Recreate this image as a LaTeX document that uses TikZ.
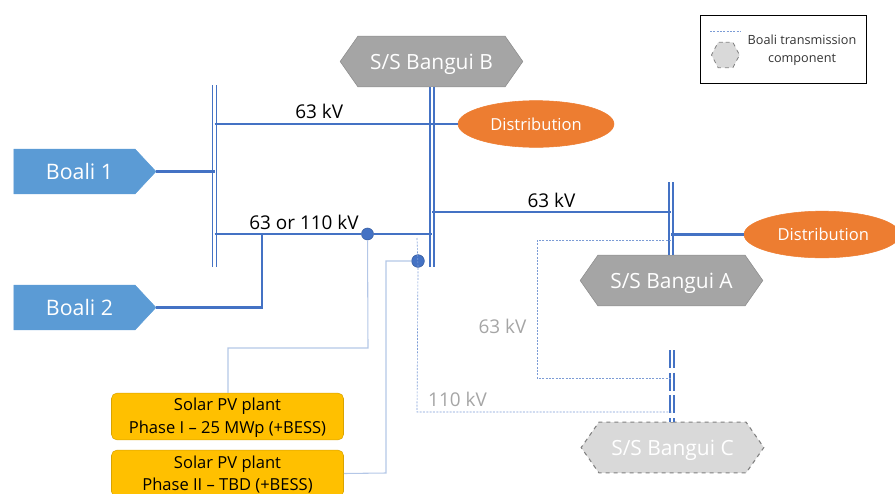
\documentclass[tikz,border=0pt]{standalone}
\usepackage{fontspec}
\setmainfont{Open Sans}
\usepackage{xcolor}
\usetikzlibrary{shapes.geometric, shapes.symbols, positioning}
\definecolor{linkblue}{RGB}{68, 114, 196}
\definecolor{paleblue}{RGB}{180, 199, 231}
\definecolor{plantblue}{RGB}{91, 155, 213}
\definecolor{loadorange}{RGB}{237, 125, 49}
\definecolor{stationgray}{RGB}{165, 165, 165}
\definecolor{plannedgray}{RGB}{217, 217, 217}
\definecolor{solaryellow}{RGB}{255, 192, 0}
\tikzset{
    plant/.style={signal, signal to=east, signal pointer angle=94, draw=plantblue, fill=plantblue,
        minimum width=106.5pt, minimum height=33.5pt, inner sep=0pt, outer sep=0pt,
        text=white, font=\fontsize{16}{18}\selectfont},
    station/.style={signal, signal to=east and west, signal pointer angle=110, draw=stationgray!85!black, fill=stationgray,
        minimum width=137pt, minimum height=38pt, inner sep=0pt, outer sep=0pt, text depth=0pt,
        text=white, font=\fontsize{15.7}{18}\selectfont},
    planned/.style={station, draw=gray, dashed, thick, fill=plannedgray},
    load/.style={ellipse, draw=loadorange, fill=loadorange, minimum width=117pt, minimum height=35pt,
        inner sep=0pt, outer sep=0pt, text=white, font=\fontsize{12.4}{14}\selectfont},
    solar/.style={rectangle, rounded corners=4pt, draw=solaryellow!85!black, fill=solaryellow,
        minimum width=174pt, minimum height=35pt, inner sep=0pt, align=center,
        font=\fontsize{12.4}{17}\selectfont},
    busbar/.style={linkblue, line width=1.2pt, double=white, double distance=1.8pt},
    feeder/.style={linkblue, line width=2pt},
    tapline/.style={paleblue, line width=0.8pt},
    future/.style={linkblue!70, line width=0.5pt, dash pattern=on 1.5pt off 1pt},
    voltage/.style={font=\fontsize{14.2}{16}\selectfont},
    tapdot/.style={circle, fill=linkblue, draw=linkblue!80!black, inner sep=0pt}
}
\begin{document}
\begin{tikzpicture}[x=0.75pt, y=-0.75pt]
    \useasboundingbox (0,0) rectangle (895,493);

    % Plants
    \node[plant] (boali1) at (74.5,171.5) {\hspace*{7.5pt}Boali 1};
    \node[plant] (boali2) at (74.5,307.5) {\hspace*{7.5pt}Boali 2};

    % Substations
    \node[station] (bangB) at (431.5,61.5) {S/S Bangui B};
    \node[station] (bangA) at (671.5,280.5) {S/S Bangui A};
    \node[planned] (bangC) at (672.5,447.5) {S/S Bangui C};

    % Loads
    \node[load] (distB) at (536,124) {Distribution};
    \node[load] (distA) at (822,234.5) {\hspace*{2pt}Distribution};

    % Solar plants
    \node[solar] (pv1) at (227.5,416.5) {};
    \node[solar] (pv2) at (227.5,473.5) {};
    \node[align=center, font=\fontsize{12.4}{17}\selectfont] (pv1text) at (227.5,417.5) {Solar PV plant\\Phase I -- 25 MWp (+BESS)};
    \node[align=center, font=\fontsize{12.4}{17}\selectfont] (pv2text) at (227.5,474.5) {Solar PV plant\\Phase II -- TBD (+BESS)};

    % Bus ends
    \coordinate (busLtop) at (214.5,85);
    \coordinate (busLbot) at (214.5,267);
    \coordinate (busBbot) at (432,267);
    \coordinate (busAtop) at (671,182);
    \coordinate (busCtop) at (672,350);

    % Busbars
    \draw[busbar] (busLtop) -- (busLbot);
    \draw[busbar] (bangB.south) ++(0.5,0) -- (busBbot);
    \draw[busbar] (busAtop) -- (busAtop |- bangA.north);
    \draw[busbar, dash pattern=on 13.5pt off 3.5pt] (busCtop) -- (busCtop |- bangC.north);

    % Tap points
    \node[tapdot, minimum size=9pt] (tap1) at (367.5,234) {};
    \node[tapdot, minimum width=8.5pt, minimum height=9.5pt] (tap2) at (418,261) {};

    % Feeders
    \coordinate (joinL) at (262,234);
    \draw[feeder] (boali1.east) -- (boali1.east -| busLtop);
    \draw[feeder] (boali2.east) -| (joinL);
    \draw[feeder] (busLtop |- distB) -- node[pos=0.43, above=-0.5pt, black, voltage] (lab63a) {63 kV} (distB.west);
    \draw[feeder] (busLtop |- joinL) -- (tap1) -- (busBbot |- joinL);
    \draw[feeder, line width=1.5pt] (432,212) -- node[pos=0.5, above=-0.5pt, black, voltage] (lab63b) {63 kV} (busAtop |- 0,212);
    \draw[feeder] (busAtop |- distA) -- (distA.west);
    \node[voltage] (lab63c) at (304,222) {63 or 110 kV};

    % Solar connections
    \draw[tapline] (tap1) -- (368,348) -- (228,348) -- (pv1.north -| 228,0);
    \draw[tapline] (tap2) -- (386,261) -- (386,473) -- (pv2.east);

    % Future Boali lines
    \coordinate (corner110) at (417,412);
    \coordinate (corner63) at (537,378);
    \draw[future] (417,238) -- (tap2.south) -- (corner110) -- (672,412);
    \draw[future] (671,240.5) -- (537,240.5) -- (corner63) -- (672,378);
    \node[voltage, text=stationgray] (lab63d) at (502.5,326) {63 kV};
    \node[voltage, text=stationgray] (lab110) at (457.5,399) {110 kV};

    % Legend
    \node[draw=black, thick, minimum width=124pt, minimum height=51pt, inner sep=0pt] (legend) at (783.5,49.5) {};
    \coordinate (keyL) at (710,31);
    \coordinate (keyR) at (741,31);
    \draw[future] (keyL) -- (keyR);
    \node[planned, minimum width=21pt, minimum height=19pt, signal pointer angle=125, line width=0.6pt] (keyhex) at (725.5,55) {};
    \node[align=center, font=\fontsize{9.5}{13.5}\selectfont, text=black!80] (legtext) at (802,50.5) {Boali transmission\\component};
\end{tikzpicture}
\end{document}
